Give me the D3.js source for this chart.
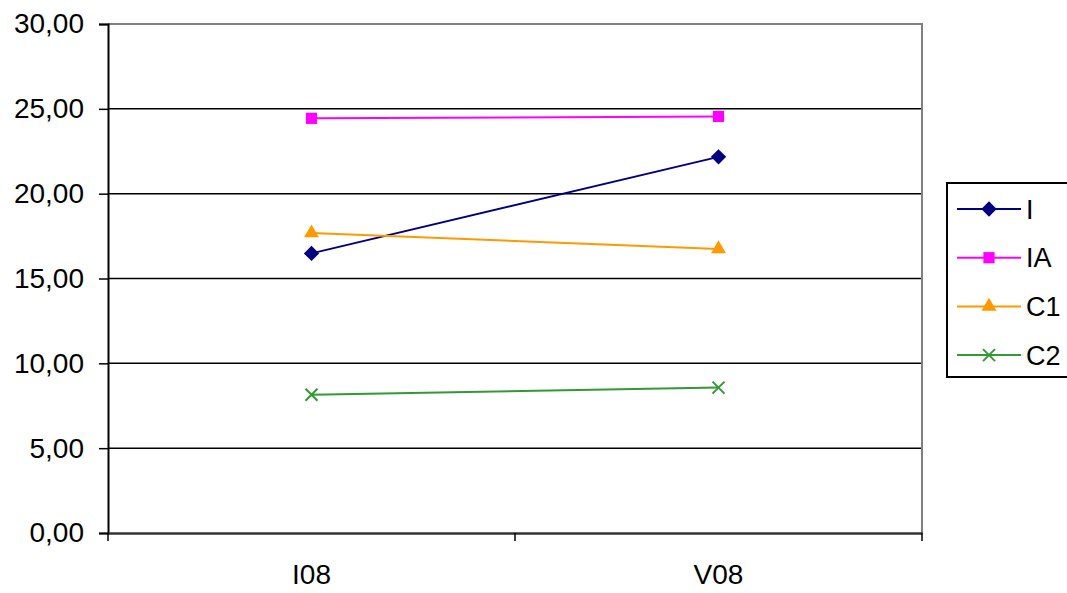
<!DOCTYPE html>
<html><head><meta charset="utf-8">
<script src="https://cdn.jsdelivr.net/npm/d3@7"></script>
<style>body{margin:0;background:#fff}svg{display:block}text{font-family:"Liberation Sans",Arial,sans-serif;fill:#000}</style>
</head><body><svg id="c" width="1067" height="593"></svg>
<script>
const categories = ["I08", "V08"];
const seriesNames = ["I", "IA", "C1", "C2"];
const valuesI  = [16.48, 22.17];
const valuesIA = [24.44, 24.55];
const valuesC1 = [17.68, 16.74];
const valuesC2 = [8.15, 8.57];
const yTicks = [0, 5, 10, 15, 20, 25, 30];

const series = [
  {name: seriesNames[0], values: valuesI,  color: "#000080", sym: "diamond"},
  {name: seriesNames[1], values: valuesIA, color: "#FF00FF", sym: "square"},
  {name: seriesNames[2], values: valuesC1, color: "#FF9900", sym: "triangle"},
  {name: seriesNames[3], values: valuesC2, color: "#339933", sym: "x"}
];

const svg = d3.select("#c");
const L = 108, R = 922, T = 24, B = 533;
const y = d3.scaleLinear().domain([0, 30]).range([B, T]);
const x = d3.scaleBand().domain(categories).range([L, R]);
const fmt = v => d3.format(".2f")(v).replace(".", ",");

// gridlines
svg.append("g").selectAll("line").data(yTicks.filter(v => v > 0 && v < 30)).join("line")
  .attr("x1", L).attr("x2", R).attr("y1", d => y(d)).attr("y2", d => y(d))
  .attr("stroke", "#000").attr("stroke-width", 1.5);
// plot border top/right
svg.append("path").attr("d", `M${L},${T}H${R}V${B}`).attr("fill", "none")
  .attr("stroke", "#808080").attr("stroke-width", 2);

// y axis
const ya = svg.append("g").attr("transform", `translate(${L},0)`)
  .call(d3.axisLeft(y).tickValues(yTicks).tickFormat(fmt).tickSize(9).tickPadding(15));
ya.select(".domain").attr("stroke", "#000").attr("stroke-width", 2);
ya.selectAll(".tick line").attr("stroke", "#000").attr("stroke-width", 1.5);
ya.selectAll("text").style("font-size", "28px").attr("fill", "#1a1a1a");

// x axis
const xa = svg.append("g").attr("transform", `translate(0,${B})`)
  .call(d3.axisBottom(x).tickSize(0).tickPadding(31));
xa.select(".domain").attr("stroke", "#333").attr("stroke-width", 2.5);
xa.selectAll("text").style("font-size", "28px").attr("fill", "#1a1a1a");
// boundary ticks
const bounds = [L, ...categories.slice(1).map(c => x(c)), R];
svg.append("g").selectAll("line").data(bounds).join("line")
  .attr("x1", d => d).attr("x2", d => d).attr("y1", B).attr("y2", B + 8)
  .attr("stroke", "#000").attr("stroke-width", 1.5);

const cx = c => x(c) + x.bandwidth() / 2;

function marker(g, s) {
  if (s.sym === "x") {
    const h = 6;
    g.append("path").attr("d", `M${-h},${-h}L${h},${h}M${-h},${h}L${h},${-h}`)
      .attr("stroke", s.color).attr("stroke-width", 2).attr("fill", "none");
  } else {
    const t = {diamond: d3.symbolDiamond2, square: d3.symbolSquare2, triangle: d3.symbolTriangle2}[s.sym];
    const area = {diamond: 150, square: 160, triangle: 160}[s.sym];
    g.append("path").attr("d", d3.symbol().type(t).size(area)())
      .attr("fill", s.color).attr("stroke", "none");
  }
}

series.forEach(s => {
  const pts = categories.map((c, i) => [cx(c), y(s.values[i])]);
  svg.append("path").attr("d", d3.line()(pts)).attr("fill", "none")
    .attr("stroke", s.color).attr("stroke-width", 2);
  pts.forEach(p => marker(svg.append("g").attr("transform", `translate(${p[0]},${p[1]})`), s));
});

// legend
const lg = svg.append("g");
lg.append("rect").attr("x", 947).attr("y", 183).attr("width", 130).attr("height", 194)
  .attr("fill", "#fff").attr("stroke", "#000").attr("stroke-width", 2);
series.forEach((s, i) => {
  const yy = 209 + i * 48.7;
  lg.append("line").attr("x1", 957).attr("x2", 1021).attr("y1", yy).attr("y2", yy)
    .attr("stroke", s.color).attr("stroke-width", 2);
  marker(lg.append("g").attr("transform", `translate(989,${yy})`), s);
  lg.append("text").attr("x", 1026).attr("y", yy).attr("dy", "0.36em")
    .style("font-size", "27px").text(s.name);
});
</script></body></html>
